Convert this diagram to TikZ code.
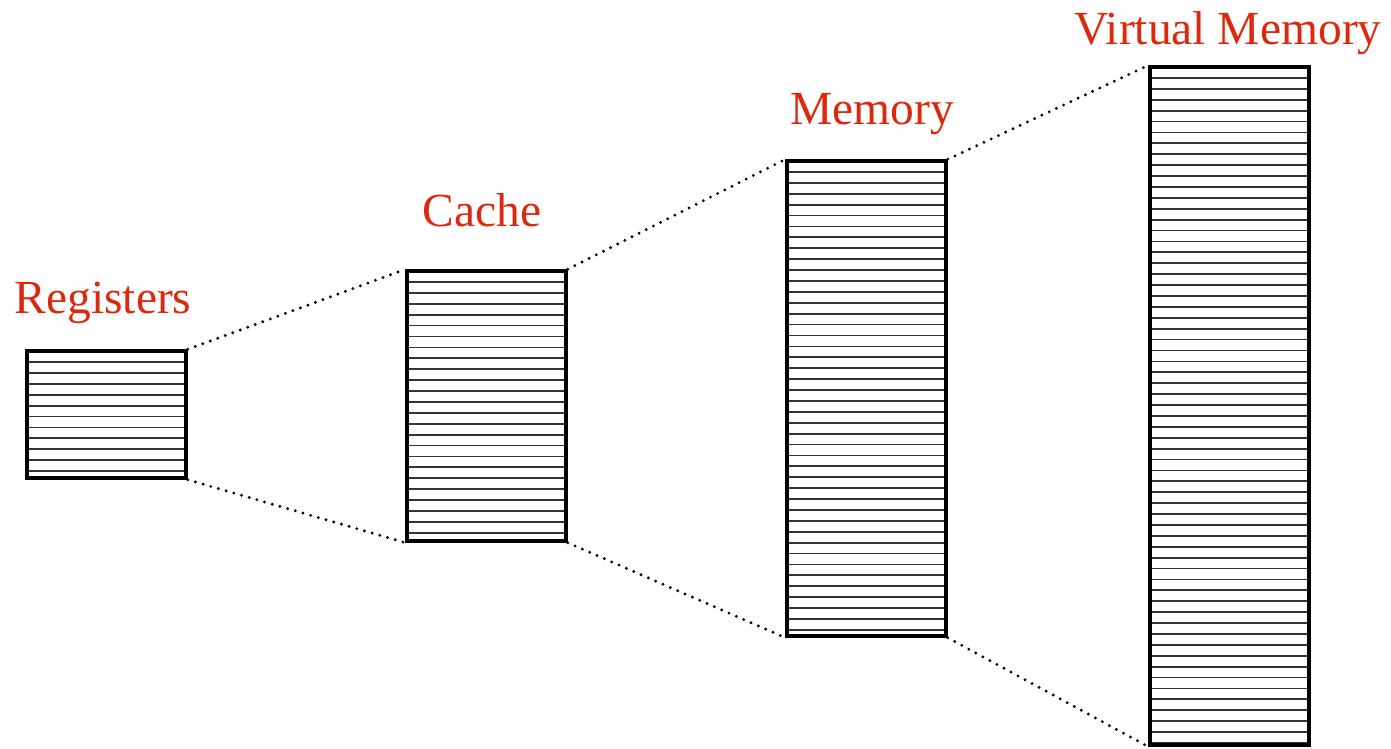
\documentclass[tikz,border=0pt]{standalone}
\usepackage{fontspec}
\setmainfont{Liberation Serif}
\definecolor{labelred}{RGB}{220,40,12}
\tikzset{
  level box/.style = {draw, line width=3.4pt, inner sep=0pt,
    minimum width=159pt,
    path picture={
      \foreach \k in {0,...,64}
        \draw[line width=1.8pt, black!80]
          ([yshift=-11pt-\k*10.9pt]path picture bounding box.north west)
          -- ([yshift=-11pt-\k*10.9pt]path picture bounding box.north east);
    }},
  level name/.style = {anchor=base, text=labelred,
    font=\fontsize{47.5pt}{52pt}\selectfont, inner sep=0pt},
  link/.style = {line width=3.2pt, line cap=round,
    dash pattern=on 0pt off 8pt}
}
\begin{document}
\begin{tikzpicture}[x=1pt, y=1pt]
\useasboundingbox (0,0) rectangle (1391,748);
% the four levels
\node[level box, minimum height=127pt] (regs) at (106.5,333.5) {};
\node[level box, minimum height=270pt] (cache) at (486.5,342) {};
\node[level box, minimum height=475pt] (mem) at (866.5,349.5) {};
\node[level box, minimum height=678pt] (vmem) at (1229.5,342) {};
% names
\node[level name] (regsname) at (103,435) {Registers};
\node[level name] (cachename) at (482,521) {Cache};
\node[level name] (memname) at (872,623) {Memory};
\node[level name] (vmemname) at (1228,703) {Virtual Memory};
% dotted fans
\draw[link] (regs.north east) -- (cache.north west);
\draw[link] (regs.south east) -- (cache.south west);
\draw[link] (cache.north east) -- (mem.north west);
\draw[link] (cache.south east) -- (mem.south west);
\draw[link] (mem.north east) -- (vmem.north west);
\draw[link] (mem.south east) -- (vmem.south west);
\end{tikzpicture}
\end{document}
